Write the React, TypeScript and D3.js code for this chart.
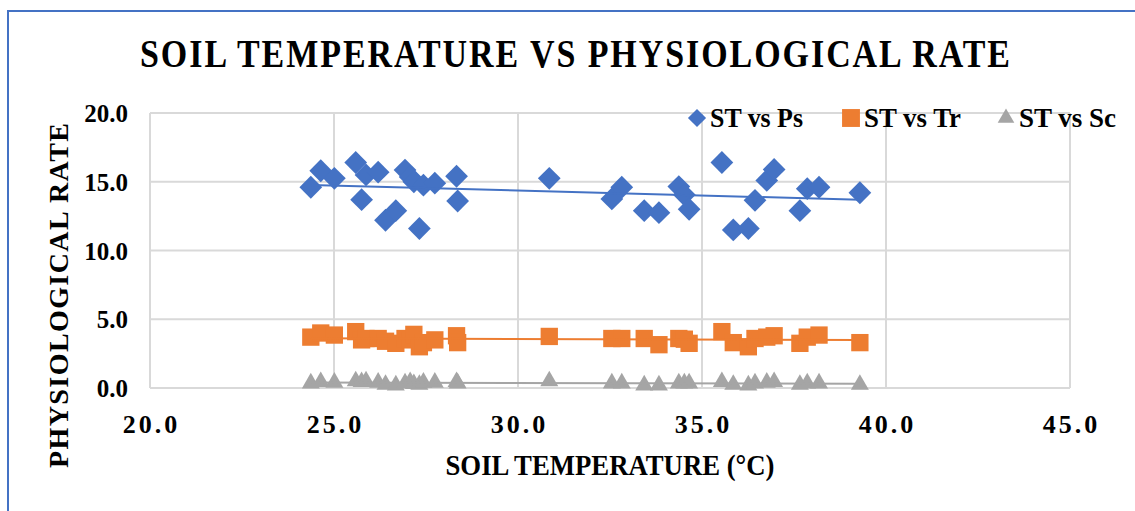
import React, { useEffect, useRef } from 'react';
import * as d3 from 'd3';

// soil temperature (°C) shared by all three series
const soilTemp = [
  24.37, 24.64, 25.01, 25.59, 25.75, 25.87, 26.2, 26.4, 26.68, 26.93, 27.07, 27.17,
  27.32, 27.43, 27.74, 28.33, 28.36, 30.85, 32.55, 32.82, 33.43, 33.83, 34.37, 34.52,
  34.65, 35.54, 35.85, 36.26, 36.44, 36.76, 36.96, 37.66, 37.86, 38.18, 39.29,
];
const psValues = [
  14.6, 15.8, 15.25, 16.4, 13.7, 15.5, 15.7, 12.2, 12.9, 15.85, 15.35, 15.0,
  11.6, 14.75, 14.9, 15.4, 13.6, 15.25, 13.75, 14.6, 12.9, 12.75, 14.65, 14.05,
  13.0, 16.4, 11.5, 11.6, 13.65, 15.1, 15.9, 12.9, 14.5, 14.6, 14.2,
];
const trValues = [
  3.7, 4.0, 3.85, 4.1, 3.5, 3.6, 3.6, 3.4, 3.25, 3.6, 3.5, 3.9,
  3.0, 3.3, 3.5, 3.8, 3.3, 3.75, 3.6, 3.6, 3.6, 3.15, 3.6, 3.55,
  3.25, 4.1, 3.3, 3.0, 3.6, 3.7, 3.8, 3.25, 3.7, 3.85, 3.3,
];
const scValues = [
  0.35, 0.45, 0.4, 0.5, 0.45, 0.5, 0.4, 0.25, 0.2, 0.35, 0.45, 0.3,
  0.25, 0.4, 0.4, 0.45, 0.35, 0.5, 0.35, 0.35, 0.2, 0.2, 0.35, 0.35,
  0.35, 0.45, 0.25, 0.2, 0.35, 0.4, 0.45, 0.25, 0.35, 0.35, 0.25,
];
const seriesNames = ['ST vs Ps', 'ST vs Tr', 'ST vs Sc'];
const xTicks = [20, 25, 30, 35, 40, 45];
const yTicks = [0, 5, 10, 15, 20];

const FONT = '"Liberation Serif", "Times New Roman", serif';

export default function App() {
  const ref = useRef<SVGSVGElement>(null);

  useEffect(() => {
    if (!ref.current) return;
    const svg = d3.select(ref.current);
    svg.selectAll('*').remove();

    const width = 1135;
    const height = 511;
    const margin = { top: 113, right: 65, bottom: 123, left: 150 };

    svg.attr('width', width).attr('height', height);
    svg.append('rect').attr('width', width).attr('height', height).attr('fill', '#fff');

    // chart frame (runs off the right/bottom of the picture)
    svg.append('rect')
      .attr('x', 8).attr('y', 11)
      .attr('width', 1300).attr('height', 700)
      .attr('fill', 'none').attr('stroke', '#4472c4').attr('stroke-width', 2);

    const x = d3.scaleLinear().domain([20, 45]).range([margin.left, width - margin.right]);
    const y = d3.scaleLinear().domain([0, 20]).range([height - margin.bottom, margin.top]);

    // grid
    const grid = svg.append('g').attr('stroke', '#d9d9d9').attr('stroke-width', 2);
    yTicks.forEach(t => {
      grid.append('line')
        .attr('x1', x(20)).attr('x2', x(45))
        .attr('y1', y(t)).attr('y2', y(t));
    });
    xTicks.forEach(t => {
      grid.append('line')
        .attr('x1', x(t)).attr('x2', x(t))
        .attr('y1', y(0)).attr('y2', y(20));
    });

    // tick labels
    svg.append('g').selectAll('text').data(yTicks).enter().append('text')
      .attr('x', 128).attr('y', d => y(d) + 9)
      .attr('text-anchor', 'end')
      .style('font-family', FONT).style('font-weight', 'bold').style('font-size', '25px')
      .text(d => d.toFixed(1));

    svg.append('g').selectAll('text').data(xTicks).enter().append('text')
      .attr('x', d => x(d) + 1.5).attr('y', 433)
      .attr('text-anchor', 'middle')
      .style('font-family', FONT).style('font-weight', 'bold').style('font-size', '26px')
      .style('letter-spacing', '3px')
      .text(d => d.toFixed(1));

    // titles
    svg.append('text')
      .attr('transform', 'translate(575,67) scale(1,1.15)')
      .attr('text-anchor', 'middle')
      .attr('textLength', 870).attr('lengthAdjust', 'spacing')
      .style('font-family', FONT).style('font-weight', 'bold').style('font-size', '34px')
      .text('SOIL TEMPERATURE VS PHYSIOLOGICAL RATE');

    svg.append('text')
      .attr('x', 610).attr('y', 475)
      .attr('text-anchor', 'middle')
      .attr('textLength', 329).attr('lengthAdjust', 'spacingAndGlyphs')
      .style('font-family', FONT).style('font-weight', 'bold').style('font-size', '29px')
      .text('SOIL TEMPERATURE (°C)');

    svg.append('text')
      .attr('transform', 'translate(68,295.5) rotate(-90)')
      .attr('text-anchor', 'middle')
      .attr('textLength', 345).attr('lengthAdjust', 'spacing')
      .style('font-family', FONT).style('font-weight', 'bold').style('font-size', '28px')
      .text('PHYSIOLOGICAL RATE');

    const series = [
      { name: seriesNames[0], values: psValues, color: '#4472c4', symbol: d3.symbolDiamond2, size: 330, legendSize: 210 },
      { name: seriesNames[1], values: trValues, color: '#ed7d31', symbol: d3.symbolSquare, size: 300, legendSize: 320 },
      { name: seriesNames[2], values: scValues, color: '#a5a5a5', symbol: d3.symbolTriangle, size: 140, legendSize: 120 },
    ];

    const line = d3.line<[number, number]>().x(d => x(d[0])).y(d => y(d[1]));

    series.forEach(s => {
      const pts = soilTemp.map((t, i) => [t, s.values[i]] as [number, number]);
      const sym = d3.symbol().type(s.symbol).size(s.size);

      svg.append('g').selectAll('path').data(pts).enter().append('path')
        .attr('transform', d => `translate(${x(d[0])},${y(d[1])})`)
        .attr('d', sym)
        .attr('fill', s.color);

      // linear trendline (least squares)
      const mx = d3.mean(pts, d => d[0]) as number;
      const my = d3.mean(pts, d => d[1]) as number;
      const sxy = d3.sum(pts, d => (d[0] - mx) * (d[1] - my));
      const sxx = d3.sum(pts, d => (d[0] - mx) ** 2);
      const slope = sxy / sxx;
      const [x0, x1] = d3.extent(soilTemp) as [number, number];
      const fit: [number, number][] = [x0, x1].map(v => [v, my + slope * (v - mx)]);
      svg.append('path')
        .datum(fit)
        .attr('d', line)
        .attr('fill', 'none')
        .attr('stroke', s.color)
        .attr('stroke-width', 2);
    });

    // legend
    const legendX = [697, 851, 1006];
    const legendLen = [93, 97, 97];
    series.forEach((s, i) => {
      const g = svg.append('g').attr('transform', `translate(${legendX[i]},118)`);
      g.append('path')
        .attr('d', d3.symbol().type(s.symbol).size(s.legendSize)())
        .attr('fill', s.color);
      g.append('text')
        .attr('x', 13).attr('y', 9)
        .attr('textLength', legendLen[i]).attr('lengthAdjust', 'spacingAndGlyphs')
        .style('font-family', FONT).style('font-weight', 'bold').style('font-size', '27px')
        .text(s.name);
    });
  }, []);

  return (
    <svg
      ref={ref}
      style={{ position: 'absolute', left: 0, top: 0, display: 'block' }}
      role="img"
      aria-label="Scatter chart of soil temperature vs physiological rate"
    ></svg>
  );
}
